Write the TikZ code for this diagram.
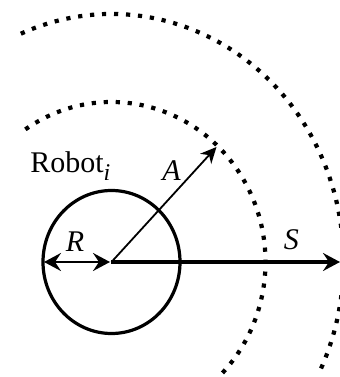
\documentclass[tikz,border=0pt]{standalone}
\usepackage{fontspec}
\setmainfont{Liberation Serif}
\usetikzlibrary{arrows.meta}
\begin{document}
\begin{tikzpicture}[x=0.5pt, y=0.5pt,
    >={Stealth[length=8.5pt,width=9pt,inset=3pt]},
    lbl/.style={font=\fontsize{15}{17}\selectfont\itshape, inner sep=0pt},
    zone/.style={line width=2.1pt, dash pattern=on 2.1pt off 3.9pt},
    body/.style={line width=1.6pt}]
  \useasboundingbox (0,0) rectangle (340,377);

  \coordinate (c) at (111.5,115);
  \coordinate (rl) at (44,115);
  \coordinate (rc) at (110,115);
  \coordinate (a) at (216.5,230);
  \coordinate (s) at (340,115);

  \draw[body] (c) ellipse [x radius=68.5, y radius=71.5];
  \draw[zone] (c) ++(124:154 and 160) arc [start angle=124, end angle=-44.5, x radius=154, y radius=160];
  \draw[zone] (c) ++(113:232 and 248) arc [start angle=113, end angle=-26, x radius=232, y radius=248];

  \draw[-{Stealth[length=8pt,width=7.5pt,inset=2.5pt]}, line width=0.9pt] (c) -- (a);
  \draw[->, line width=1.6pt] (c) -- (s);
  \draw[<->, line width=1.4pt] (rl) -- (rc);

  \node[lbl] (alab) at (171.5,206) {A};
  \node[lbl] (rlab) at (75,135.5) {R};
  \node[lbl] (slab) at (291.5,137.5) {S};
  \node[font=\fontsize{15}{17}\selectfont, anchor=base west, inner sep=0pt] (robot) at (30,205) {Robot\raisebox{-0.28em}{\fontsize{12}{13}\selectfont\itshape i}};
\end{tikzpicture}
\end{document}
